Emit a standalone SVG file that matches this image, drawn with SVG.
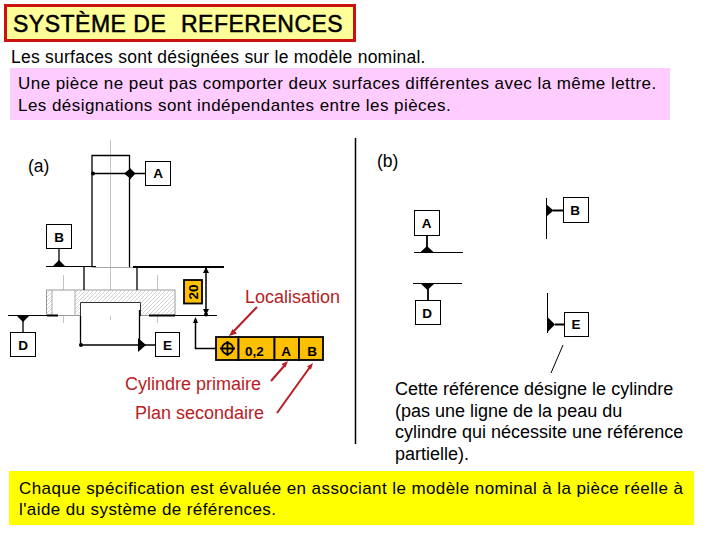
<svg xmlns="http://www.w3.org/2000/svg" width="720" height="540" viewBox="0 0 720 540">
<style>
text{font-family:"Liberation Sans",Arial,sans-serif;fill:#000}
.t{font-size:17px;letter-spacing:.45px}
.f{font-size:17px;letter-spacing:.41px}
.e{font-size:18px}
.r{font-size:18px;fill:#b81c24}
.b{font-size:13.500px;font-weight:bold;text-anchor:middle}
.box{fill:#fff;stroke:#000;stroke-width:1}
.y{fill:#ffc000;stroke:#000;stroke-width:1.800}
.k{stroke:#000;fill:none}
.g{stroke:#c4c4c4;fill:none;stroke-width:1}
.red{stroke:#b81c24;stroke-width:2;fill:none}
</style>
<defs>
<pattern id="h" width="4" height="4" patternUnits="userSpaceOnUse"><path d="M0 4L4 0" stroke="#c8c8c8" stroke-width=".8"/></pattern>
</defs>
<rect width="720" height="540" fill="#fff"/>
<g id="title"><rect x="5.500" y="5.500" width="349" height="35" fill="#ffff99" stroke="#cc1111" stroke-width="3"/><text x="13" y="32" font-size="23" letter-spacing=".5" stroke="#000" stroke-width=".5">SYSTÈME DE<tspan x="181">REFERENCES</tspan></text></g>
<text id="intro" x="11" y="63" style="font-size:17.500px;letter-spacing:.24px">Les surfaces sont désignées sur le modèle nominal.</text>
<g id="note"><rect x="10" y="68" width="660" height="52" fill="#ffccff"/><text x="18" y="89" class="t">Une pièce ne peut pas comporter deux surfaces différentes avec la même lettre.</text><text x="18" y="111" class="t">Les désignations sont indépendantes entre les pièces.</text></g>
<text x="28" y="172" font-size="17.500">(a)</text>
<text x="377" y="167" font-size="17.500">(b)</text>
<path d="M355.500 138V444" class="k" stroke-width="1.500"/>
<g id="part">
<path d="M110.500 140V320M63.500 275V323M157.500 275V323" class="g"/>
<rect x="46.500" y="290" width="128.500" height="25.500" fill="#fff" stroke="#999"/>
<rect x="75" y="291" width="100" height="24" fill="url(#h)"/>
<rect x="47" y="291" width="5" height="24" fill="url(#h)"/>
<path d="M52 290V316M75 290V316" stroke="#aaa" fill="none"/>
<path d="M80.500 316V302.500H140.500V316" fill="#fff" stroke="#333"/>
<path d="M92 267V155.500H129.500V267" class="k" stroke="#333" stroke-width="1.300"/>
<path d="M84 267V290M137 267V290" class="k" stroke="#444" stroke-width="1.300"/>
<path d="M92 267.500H133" stroke="#aaa"/>
</g>
<g id="connectors">
<path d="M46 266.500H96M8 315.500H58M149 315.500H217" class="k"/>
<path d="M133 267H224" class="k" stroke-width="1.800"/>
<path d="M149 315.500H175M47 315.500H58" class="k" stroke-width="1.800"/>
<path d="M81 345H156M80.500 316V345M139.500 310V345M59 248V262M23 320V332M92 173.500H145" class="k" stroke-width="1.300"/>
<path d="M206 268V314" class="k" stroke-width="1.500"/>
<path d="M206 267l-3 6h6zM206 315l-3-6h6z"/>
<circle cx="93" cy="173.500" r="2"/><circle cx="81" cy="345" r="2"/><circle cx="206" cy="314.500" r="2"/>
<path d="M195.500 319V348.500H216" class="k" stroke-width="1.500"/>
<path d="M195.500 317l-2.500 6h5z"/>
<path d="M124 173.500L129 169.500V167L135.500 173.500L129 180.500V177.500z"/>
<path d="M146 345l-8-7v14z"/>
<path d="M59 260l-7 7h14zM23 322l-7-7h14z"/>
<path d="M427 236V248M428 289V300M553 210.500H564M555 324.500H565" class="k" stroke-width="1.800"/>
<path d="M414 252.500H463M413 283.500H462M546.500 198V239M547.500 293V333" class="k" stroke-width="1"/>
<path d="M427 246l-7 6.500h14zM427.500 290l-7-6.500h14z"/>
<path d="M546 204v13l7.500-6.500zM547 316.500v16l8-8z"/>
<path d="M563 345L551 373" class="k"/>
</g>
<g id="node-A1"><rect x="145.500" y="161.500" width="25" height="24" class="box"/><text x="158" y="178" class="b">A</text></g>
<g id="node-B1"><rect x="46.500" y="224.500" width="25" height="24" class="box"/><text x="59" y="241.500" class="b">B</text></g>
<g id="node-D1"><rect x="10.500" y="332.500" width="25" height="24" class="box"/><text x="23" y="350" class="b">D</text></g>
<g id="node-E1"><rect x="155.500" y="332.500" width="24" height="24" class="box"/><text x="167.500" y="350" class="b">E</text></g>
<g id="dim20"><rect x="184" y="280" width="18" height="23.500" class="y"/><text transform="translate(198 292) rotate(-90)" class="b">20</text></g>
<g id="frame">
<rect x="216" y="337" width="22.500" height="23" class="y"/><rect x="238.500" y="337" width="36" height="23" class="y"/><rect x="274.500" y="337" width="24.500" height="23" class="y"/><rect x="299" y="337" width="24" height="23" class="y"/>
<circle cx="227.500" cy="348.500" r="5.500" fill="none" stroke="#000" stroke-width="1.800"/><path d="M220 348.500H235M227.500 341V356" stroke="#000" stroke-width="1.800"/>
<text x="254.500" y="356" class="b">0,2</text><text x="286" y="356" class="b">A</text><text x="312" y="356" class="b">B</text>
</g>
<g id="labels">
<text x="245" y="303" class="r">Localisation</text>
<text x="125" y="390" class="r">Cylindre primaire</text>
<text x="135" y="419" class="r">Plan secondaire</text>
<path d="M257 307L233 332" class="red"/><path d="M271 381L285 365" class="red"/><path d="M277 413L310 367" class="red"/>
<path d="M229 336l8-2.500-4.500-4.500zM288 361l-6.500 3 4 3.500zM313 363l-6 3.500 4 3z" fill="#b81c24"/>
</g>
<g id="node-A2"><rect x="414.500" y="210.500" width="25" height="25" class="box"/><text x="426.500" y="228" class="b">A</text></g>
<g id="node-D2"><rect x="415.500" y="300.500" width="25" height="24" class="box"/><text x="427" y="318" class="b">D</text></g>
<g id="node-B2"><rect x="563.500" y="197.500" width="25" height="25" class="box"/><text x="575" y="214.500" class="b">B</text></g>
<g id="node-E2"><rect x="564.500" y="312.500" width="24" height="24" class="box"/><text x="576" y="329" class="b">E</text></g>
<g id="explain"><text x="395" y="395" class="e">Cette référence désigne le cylindre</text><text x="395" y="417" class="e">(pas une ligne de la peau du</text><text x="395" y="438" class="e">cylindre qui nécessite une référence</text><text x="395" y="460" class="e">partielle).</text></g>
<g id="footer"><rect x="9" y="471" width="685" height="54" fill="#ffff00"/><text x="19" y="494" class="f">Chaque spécification est évaluée en associant le modèle nominal à la pièce réelle à</text><text x="19" y="515" class="f">l'aide du système de références.</text></g>
</svg>
